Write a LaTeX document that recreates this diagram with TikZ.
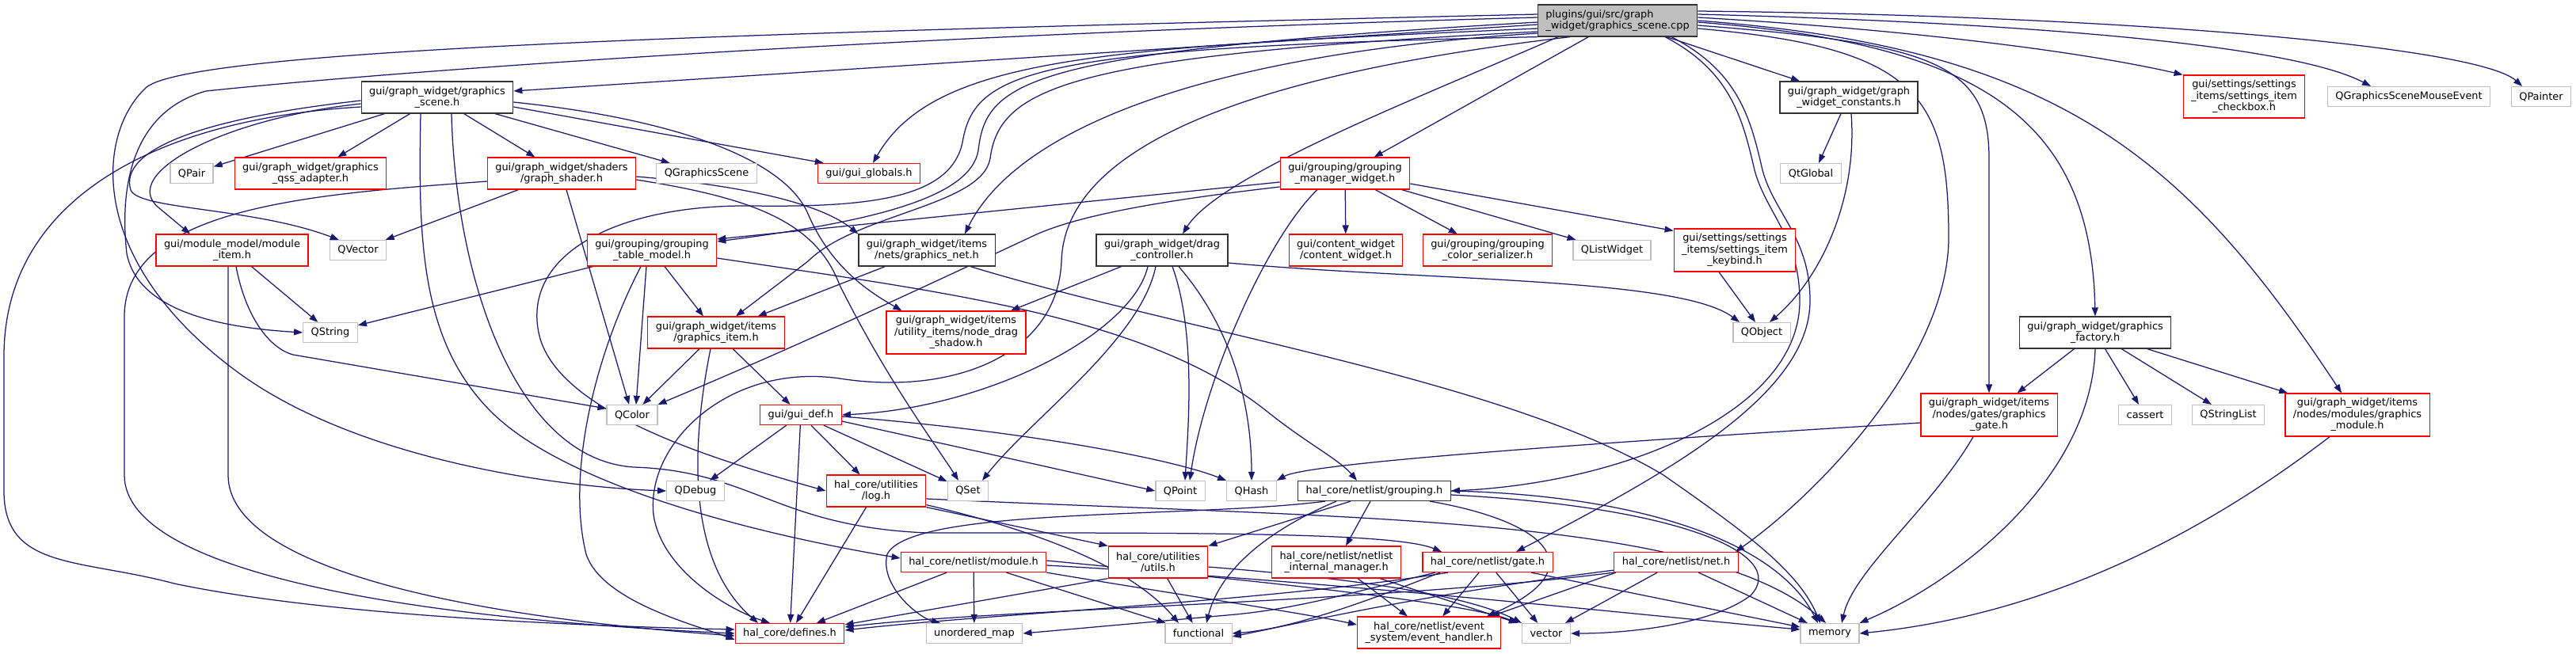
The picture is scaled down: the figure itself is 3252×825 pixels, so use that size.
\documentclass[tikz,border=0pt]{standalone}
\usepackage{fontspec}
\newfontfamily\dvs{DejaVu Sans}
\usetikzlibrary{arrows.meta}
\definecolor{edgeblue}{HTML}{191970}
\definecolor{rootgray}{HTML}{BFBFBF}
\newcommand{\nodefont}{\dvs\fontsize{12.9}{14.5}\selectfont}
\pgfdeclarelayer{edgelayer}
\pgfsetlayers{edgelayer,main}

\begin{document}
\begin{tikzpicture}[x=1pt, y=1pt,
  box/.style={rectangle, fill=white, inner xsep=10pt, inner ysep=2pt, minimum height=25pt, align=center, font=\nodefont, line width=1.2pt},
  doc/.style={box, draw=black!80},
  trunc/.style={box, draw=red},
  ext/.style={box, draw=black!25},
  root/.style={box, draw=black!80, fill=rootgray, align=left},
  twoline/.style={minimum height=40pt},
  threeline/.style={minimum height=54pt},
  inc/.style={draw=edgeblue, line width=1.25pt, -{Triangle[length=11pt,width=8pt]}}]
      \useasboundingbox (0,0) rectangle (3252,-825);
      \node[root, twoline] (main) at (2042,-26) {plugins/gui/src/graph\\\_widget/graphics\_scene.cpp};
      \node[doc, twoline] (gscene) at (552,-123) {gui/graph\_widget/graphics\\\_scene.h};
      \node[doc, twoline] (gwconst) at (2334,-123) {gui/graph\_widget/graph\\\_widget\_constants.h};
      \node[trunc, threeline] (checkbox) at (2833,-122) {gui/settings/settings\\\_items/settings\_item\\\_checkbox.h};
      \node[ext] (mouseev) at (3041,-122) {QGraphicsSceneMouseEvent};
      \node[ext] (qpainter) at (3208,-122) {QPainter};
      \node[ext] (qpair) at (242,-219) {QPair};
      \node[trunc, twoline] (qss) at (392,-219) {gui/graph\_widget/graphics\\\_qss\_adapter.h};
      \node[trunc, twoline] (shader) at (709,-219) {gui/graph\_widget/shaders\\/graph\_shader.h};
      \node[ext] (qgscene) at (892,-219) {QGraphicsScene};
      \node[trunc] (globals) at (1097,-219) {gui/gui\_globals.h};
      \node[trunc, twoline] (gmw) at (1698,-219) {gui/grouping/grouping\\\_manager\_widget.h};
      \node[ext] (qtglobal) at (2286,-219) {QtGlobal};
      \node[trunc, twoline] (moditem) at (293,-316) {gui/module\_model/module\\\_item.h};
      \node[ext] (qvector) at (452,-316) {QVector};
      \node[trunc, twoline] (gtm) at (823,-316) {gui/grouping/grouping\\\_table\_model.h};
      \node[doc, twoline] (gnet) at (1170,-316) {gui/graph\_widget/items\\/nets/graphics\_net.h};
      \node[doc, twoline] (dragctl) at (1467,-316) {gui/graph\_widget/drag\\\_controller.h};
      \node[trunc, twoline] (content) at (1699,-316) {gui/content\_widget\\/content\_widget.h};
      \node[trunc, twoline] (colorser) at (1878,-316) {gui/grouping/grouping\\\_color\_serializer.h};
      \node[ext] (qlist) at (2035,-316) {QListWidget};
      \node[trunc, threeline] (keybind) at (2190,-316) {gui/settings/settings\\\_items/settings\_item\\\_keybind.h};
      \node[ext] (qstring) at (417,-420) {QString};
      \node[trunc, twoline] (gitem) at (904,-420) {gui/graph\_widget/items\\/graphics\_item.h};
      \node[trunc, threeline] (shadow) at (1207,-420) {gui/graph\_widget/items\\/utility\_items/node\_drag\\\_shadow.h};
      \node[ext] (qobject) at (2224,-420) {QObject};
      \node[doc, twoline] (gfactory) at (2645,-420) {gui/graph\_widget/graphics\\\_factory.h};
      \node[ext] (qcolor) at (798,-524) {QColor};
      \node[trunc] (guidef) at (1011,-524) {gui/gui\_def.h};
      \node[trunc, threeline] (ggate) at (2511,-524) {gui/graph\_widget/items\\/nodes/gates/graphics\\\_gate.h};
      \node[ext] (cassert) at (2708,-524) {cassert};
      \node[ext] (qstrlist) at (2813,-524) {QStringList};
      \node[trunc, threeline] (gmodule) at (2976,-524) {gui/graph\_widget/items\\/nodes/modules/graphics\\\_module.h};
      \node[ext] (qdebug) at (878,-620) {QDebug};
      \node[trunc, twoline] (log) at (1106,-620) {hal\_core/utilities\\/log.h};
      \node[ext] (qset) at (1222,-620) {QSet};
      \node[ext] (qpoint) at (1490,-620) {QPoint};
      \node[ext] (qhash) at (1580,-620) {QHash};
      \node[doc] (grouping) at (1735,-620) {hal\_core/netlist/grouping.h};
      \node[trunc] (module) at (1229,-710) {hal\_core/netlist/module.h};
      \node[trunc, twoline] (utils) at (1462,-710) {hal\_core/utilities\\/utils.h};
      \node[trunc, twoline] (nim) at (1687,-710) {hal\_core/netlist/netlist\\\_internal\_manager.h};
      \node[trunc] (gate) at (1878,-710) {hal\_core/netlist/gate.h};
      \node[trunc] (net) at (2116,-710) {hal\_core/netlist/net.h};
      \node[trunc] (defines) at (997,-800) {hal\_core/defines.h};
      \node[ext] (umap) at (1230,-800) {unordered\_map};
      \node[ext] (functional) at (1513,-800) {functional};
      \node[trunc, twoline] (evh) at (1804,-799) {hal\_core/netlist/event\\\_system/event\_handler.h};
      \node[ext] (vector) at (1952,-800) {vector};
      \node[ext] (memory) at (2310,-800) {memory};

      \begin{pgfonlayer}{edgelayer}
      \fill[white] (0,0) rectangle (3252,-825);
      % graphics_scene.cpp
      \draw[inc] ([yshift=-5pt]main.west) -- ([yshift=8pt]gscene.east);
      \draw[inc] ([yshift=8pt]main.west) .. controls (1000,-40) and (250,-60) .. (185,-110) .. controls (120,-170) and (110,-330) .. (300,-470) .. controls (450,-580) and (700,-615) .. (qdebug.west);
      \draw[inc] ([yshift=4pt]main.west) .. controls (1100,-45) and (500,-90) .. (260,-115) .. controls (170,-140) and (150,-230) .. (160,-320) .. controls (175,-400) and (300,-415) .. (qstring.west);
      \draw[inc] ([yshift=-10pt]main.west) .. controls (1400,-60) and (1180,-70) .. ([xshift=5pt]globals.north);
      \draw[inc] (main.south west) .. controls (1300,-60) and (1230,-90) .. (1215,-180) .. controls (1200,-250) and (1100,-262) .. (950,-260) .. controls (780,-258) and (660,-320) .. (680,-420) .. controls (700,-520) and (900,-580) .. (log.west);
      \draw[inc] ([yshift=-14pt]main.west) .. controls (1350,-70) and (1262,-110) .. (1250,-200) .. controls (1240,-260) and (1080,-270) .. (1020,-330) -- ([xshift=25pt]gitem.north);
      \draw[inc] ([yshift=-2pt]main.west) .. controls (1300,-65) and (1245,-100) .. (1235,-190) .. controls (1225,-250) and (1100,-280) .. ([yshift=11pt]gtm.east);
      \draw[inc] ([xshift=-60pt]main.south) .. controls (1700,-80) and (1345,-150) .. (1340,-330) .. controls (1335,-450) and (1200,-500) .. (1060,-478) .. controls (920,-458) and (815,-560) .. (825,-650) .. controls (835,-720) and (920,-770) .. ([xshift=-25pt]defines.north);
      \draw[inc] (main) -- (gmw);
      \draw[inc] ([xshift=-75pt]main.south) .. controls (1800,-120) and (1540,-220) .. ([xshift=26pt]dragctl.north);
      \draw[inc] ([yshift=-16pt]main.west) .. controls (1500,-70) and (1280,-170) .. ([xshift=48pt]gnet.north);
      \draw[inc] (main) -- (gwconst);
      \draw[inc] ([yshift=4pt]main.east) .. controls (2450,-40) and (2650,-70) .. (checkbox.north west);
      \draw[inc] ([yshift=8pt]main.east) .. controls (2600,-30) and (2900,-60) .. ([xshift=-48pt]mouseev.north);
      \draw[inc] ([yshift=12pt]main.east) .. controls (2700,-20) and (3130,-60) .. ([xshift=-24pt]qpainter.north);
      \draw[inc] ([yshift=-2pt]main.east) .. controls (2500,-55) and (2640,-150) .. (gfactory.north);
      \draw[inc] ([yshift=-6pt]main.east) .. controls (2440,-55) and (2511,-80) .. (2511,-200) -- (ggate.north);
      \draw[inc] ([yshift=-10pt]main.east) .. controls (2420,-60) and (2460,-120) .. (2460,-300) .. controls (2460,-450) and (2300,-620) .. ([xshift=75pt]net.north);
      \draw[inc] ([xshift=68pt]main.south) .. controls (2195,-90) and (2210,-150) .. (2225,-215) .. controls (2240,-270) and (2285,-300) .. (2285,-380) .. controls (2285,-500) and (2100,-600) .. ([xshift=36pt]gate.north);
      \draw[inc] ([xshift=60pt]main.south) .. controls (2185,-90) and (2200,-150) .. (2215,-215) .. controls (2230,-270) and (2272,-300) .. (2272,-380) .. controls (2272,-520) and (2050,-610) .. (grouping.east);
      \draw[inc] (main.east) .. controls (2600,-60) and (2760,-200) .. ([xshift=-20pt]gmodule.north);
      % graphics_scene.h
      \draw[inc] (gscene) -- (qpair);
      \draw[inc] (gscene) -- (qss);
      \draw[inc] (gscene) -- (shader);
      \draw[inc] (gscene) -- (qgscene);
      \draw[inc] ([yshift=-12pt]gscene.east) -- ([xshift=8pt]globals.north west);
      \draw[inc] ([yshift=-6pt]gscene.east) .. controls (850,-150) and (990,-200) .. (1020,-270) .. controls (1050,-340) and (1100,-370) .. ([xshift=20pt]shadow.north west);
      \draw[inc] ([yshift=-4pt]gscene.west) .. controls (250,-150) and (150,-190) .. (165,-240) .. controls (175,-265) and (320,-262) .. ([xshift=12pt]qvector.north west);
      \draw[inc] ([yshift=-8pt]gscene.west) .. controls (280,-150) and (150,-220) .. (200,-262) -- ([xshift=-53pt]moditem.north);
      \draw[inc] ([yshift=-12pt]gscene.west) .. controls (200,-150) and (5,-250) .. (5,-450) -- (5,-620) .. controls (5,-720) and (100,-705) .. (220,-737) .. controls (400,-775) and (700,-790) .. ([yshift=5pt]defines.west);
      \draw[inc] ([xshift=-21pt]gscene.south) .. controls (528,-300) and (530,-430) .. (620,-520) .. controls (700,-600) and (900,-665) .. ([yshift=5pt]module.west);
      \draw[inc] ([xshift=18pt]gscene.south) .. controls (575,-350) and (650,-580) .. (800,-590) .. controls (950,-595) and (980,-665) .. (1170,-673) .. controls (1500,-673) and (1760,-672) .. ([xshift=-58pt]gate.north);
      % graph_shader.h
      \draw[inc] (shader) -- (qvector);
      \draw[inc] (shader) -- (qcolor);
      \draw[inc] ([yshift=-10pt]shader.west) .. controls (400,-245) and (157,-260) .. (157,-400) -- (157,-600) .. controls (157,-720) and (500,-780) .. (defines.west);
      \draw[inc] ([yshift=-8pt]shader.east) .. controls (950,-250) and (1030,-280) .. (1060,-360) .. controls (1120,-480) and (1180,-560) .. ([xshift=-12pt]qset.north);
      \draw[inc] ([yshift=-4pt]shader.east) .. controls (950,-235) and (1040,-260) .. (gnet.north west);
      % module_item.h
      \draw[inc] (moditem) -- (qstring);
      \draw[inc] ([xshift=5pt]moditem.south) .. controls (310,-400) and (340,-440) .. (370,-448) -- ([yshift=8pt]qcolor.west);
      \draw[inc] ([xshift=-5pt]moditem.south) -- (288,-600) .. controls (288,-720) and (600,-780) .. ([yshift=-3pt]defines.west);
      % grouping_table_model.h
      \draw[inc] ([xshift=8pt]gtm.south west) -- ([yshift=-4pt]qstring.north east);
      \draw[inc] ([xshift=-7pt]gtm.south) -- ([xshift=5pt]qcolor.north);
      \draw[inc] ([xshift=-14pt]gtm.south) .. controls (750,-450) and (715,-600) .. (740,-700) .. controls (760,-760) and (880,-790) .. ([yshift=-8pt]defines.west);
      \draw[inc] (gtm) -- (gitem);
      \draw[inc] ([yshift=-10pt]gtm.east) .. controls (1200,-370) and (1450,-400) .. (1600,-520) .. controls (1650,-560) and (1690,-580) .. ([xshift=-22pt]grouping.north);
      % grouping_manager_widget.h
      \draw[inc] (gmw) -- (content);
      \draw[inc] (gmw) -- (colorser);
      \draw[inc] (gmw) -- (qlist);
      \draw[inc] ([yshift=-13pt]gmw.east) -- ([yshift=-3pt]keybind.north west);
      \draw[inc] ([yshift=-11pt]gmw.west) -- ([yshift=14pt]gtm.east);
      \draw[inc] ([yshift=-17pt]gmw.west) .. controls (1450,-255) and (1350,-275) .. (1300,-300) .. controls (1150,-370) and (1000,-440) .. (qcolor.north east);
      \draw[inc] ([xshift=-35pt]gmw.south) .. controls (1600,-300) and (1520,-480) .. ([xshift=12pt]qpoint.north);
      % graphics_net.h, drag_controller.h
      \draw[inc] (gnet) -- (gitem);
      \draw[inc] ([xshift=55pt]gnet.south) .. controls (1500,-420) and (1900,-480) .. (2100,-600) .. controls (2200,-670) and (2270,-720) .. ([xshift=-12pt]memory.north);
      \draw[inc] (dragctl) -- (shadow);
      \draw[inc] ([xshift=-18pt]dragctl.south) .. controls (1430,-420) and (1250,-515) .. (guidef.east);
      \draw[inc] ([xshift=-8pt]dragctl.south) .. controls (1440,-430) and (1300,-530) .. ([xshift=18pt]qset.north);
      \draw[inc] ([xshift=13pt]dragctl.south) .. controls (1510,-420) and (1500,-540) .. ([xshift=6pt]qpoint.north);
      \draw[inc] ([xshift=21pt]dragctl.south) .. controls (1560,-420) and (1580,-520) .. (qhash.north);
      \draw[inc] ([yshift=-16pt]dragctl.east) .. controls (1800,-355) and (2120,-350) .. ([xshift=-28pt]qobject.north);
      \draw[inc] ([xshift=-20pt]keybind.south) -- ([xshift=-8pt]qobject.north);
      \draw[inc] ([xshift=-10pt]gwconst.south) -- ([xshift=10pt]qtglobal.north);
      \draw[inc] ([xshift=3pt]gwconst.south) .. controls (2345,-250) and (2300,-350) .. ([xshift=10pt]qobject.north);
      % graphics_item.h, gui_def.h
      \draw[inc] (gitem) -- (qcolor);
      \draw[inc] (gitem) -- (guidef);
      \draw[inc] ([xshift=-7pt]gitem.south) .. controls (865,-600) and (880,-720) .. ([xshift=-40pt]defines.north);
      \draw[inc] (guidef) -- (qdebug);
      \draw[inc] (guidef) -- (log);
      \draw[inc] (guidef) -- (defines);
      \draw[inc] (guidef) -- (qset);
      \draw[inc] ([yshift=-8pt]guidef.east) -- (qpoint.west);
      \draw[inc] ([yshift=-2pt]guidef.east) .. controls (1300,-545) and (1480,-580) .. (qhash.north west);
      % hal_core
      \draw[inc] (log) -- (defines);
      \draw[inc] (log.south east) -- (utils.north west);
      \draw[inc] ([yshift=3pt]log.south east) .. controls (1350,-680) and (1440,-730) .. ([xshift=-25pt]functional.north);
      \draw[inc] ([yshift=-10pt]log.east) .. controls (1700,-655) and (2150,-650) .. ([xshift=-5pt]memory.north);
      \draw[inc] (module) -- (defines);
      \draw[inc] (module) -- (umap);
      \draw[inc] (module) -- (functional);
      \draw[inc] (module.south east) .. controls (1450,-745) and (1650,-775) .. ([yshift=10pt]evh.west);
      \draw[inc] ([yshift=-4pt]module.east) .. controls (1700,-735) and (2100,-780) .. ([yshift=5pt]memory.west);
      \draw[inc] ([yshift=2pt]module.east) .. controls (1550,-730) and (1850,-760) .. ([xshift=-5pt]vector.north west);
      \draw[inc] (utils.south west) -- ([yshift=-2pt]defines.north east);
      \draw[inc] (utils) -- (functional);
      \draw[inc] ([yshift=-6pt]utils.east) .. controls (1700,-730) and (1850,-750) .. (vector.north west);
      \draw[inc] ([xshift=-30pt]grouping.south) -- (utils.north east);
      \draw[inc] ([xshift=-5pt]grouping.south) -- ([xshift=12pt]nim.north);
      \draw[inc] ([xshift=-62pt]grouping.south) .. controls (1500,-655) and (1150,-640) .. (1120,-700) .. controls (1110,-740) and (1160,-780) .. ([xshift=-43pt]umap.north);
      \draw[inc] ([xshift=-48pt]grouping.south) .. controls (1600,-670) and (1540,-720) .. ([xshift=10pt]functional.north);
      \draw[inc] ([xshift=70pt]grouping.south) .. controls (1960,-660) and (2010,-720) .. ([xshift=73pt]evh.north);
      \draw[inc] ([yshift=-5pt]grouping.east) .. controls (2120,-640) and (2260,-700) .. (2210,-752) .. controls (2160,-790) and (2050,-800) .. (vector.east);
      \draw[inc] (grouping.east) .. controls (2060,-625) and (2240,-680) .. ([xshift=-15pt]memory.north);
      \draw[inc] (nim) -- (evh);
      \draw[inc] ([xshift=55pt]nim.south) -- ([xshift=-5pt]vector.north west);
      \draw[inc] (gate) -- (evh);
      \draw[inc] (gate) -- (vector);
      \draw[inc] ([xshift=55pt]gate.south) -- ([yshift=8pt]memory.west);
      \draw[inc] ([xshift=-50pt]gate.south) .. controls (1600,-760) and (1250,-775) .. ([yshift=4pt]defines.east);
      \draw[inc] ([xshift=-60pt]gate.south) .. controls (1700,-770) and (1620,-795) .. (functional.east);
      \draw[inc] ([xshift=-66pt]gate.south) .. controls (1700,-750) and (1640,-768) .. (1560,-776) -- (umap.east);
      \draw[inc] ([xshift=-76pt]net.south) -- ([xshift=78pt]evh.north);
      \draw[inc] (net) -- (vector);
      \draw[inc] (net) -- (memory);
      \draw[inc] (net.south west) .. controls (1750,-760) and (1250,-770) .. ([yshift=8pt]defines.east);
      \draw[inc] ([yshift=3pt]net.south west) .. controls (1800,-750) and (1650,-785) .. ([yshift=-4pt]functional.east);
      % graphics factory, gate and module items
      \draw[inc] ([yshift=-10pt]ggate.west) .. controls (2000,-560) and (1650,-585) .. (qhash.north east);
      \draw[inc] ([xshift=-20pt]ggate.south) .. controls (2440,-640) and (2340,-720) .. ([xshift=15pt]memory.north);
      \draw[inc] (gfactory) -- (ggate);
      \draw[inc] (gfactory) -- (cassert);
      \draw[inc] (gfactory) -- (qstrlist);
      \draw[inc] (gfactory) -- (gmodule);
      \draw[inc] (gfactory.south) .. controls (2640,-600) and (2480,-730) .. (memory.north east);
      \draw[inc] ([xshift=-35pt]gmodule.south) .. controls (2800,-660) and (2600,-775) .. (memory.east);
      \end{pgfonlayer}
    \end{tikzpicture}
\end{document}
